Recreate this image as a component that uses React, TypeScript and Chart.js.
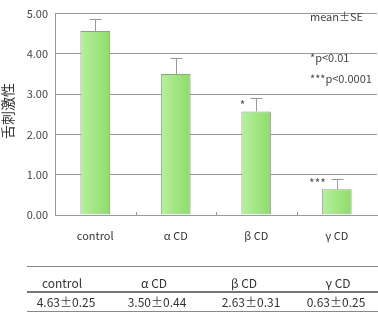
import React, { useEffect, useRef } from "react";
import { Chart, registerables } from "chart.js";

Chart.register(...registerables);

const categories = ["control", "α CD", "β CD", "γ CD"];
const means = [4.57, 3.5, 2.57, 0.64];
const errors = [0.29, 0.4, 0.33, 0.26];
const marks = ["", "", "*", "***"];
const yTicks = [0, 1, 2, 3, 4, 5];
const yTitle = "舌刺激性";
const notes = ["mean±SE", "*p<0.01", "***p<0.0001"];
const tableHeaders = ["control", "α CD", "β CD", "γ CD"];
const tableMeans = ["4.63", "3.50", "2.63", "0.63"];
const tableSEs = ["0.25", "0.44", "0.31", "0.25"];

const FONT = '"Noto Sans CJK JP", "Noto Sans", sans-serif';
const W = 378;
const H = 333;

const extras = {
  id: "extras",
  afterDatasetsDraw(chart: any) {
    const ctx = chart.ctx;
    const ys = chart.scales.y;
    const xs = chart.scales.x;
    const meta = chart.getDatasetMeta(0);
    ctx.save();
    ctx.strokeStyle = "#999";
    ctx.lineWidth = 1;
    meta.data.forEach((el: any, i: number) => {
      const x = Math.round(el.x) + 0.5;
      const yTop = Math.round(ys.getPixelForValue(means[i] + errors[i])) + 0.5;
      const yBar = el.y;
      ctx.beginPath();
      ctx.moveTo(x, yBar);
      ctx.lineTo(x, yTop);
      ctx.moveTo(x - 6, yTop);
      ctx.lineTo(x + 6, yTop);
      ctx.stroke();
      if (marks[i]) {
        ctx.fillStyle = "#555";
        ctx.font = `12px ${FONT}`;
        ctx.textAlign = "right";
        ctx.textBaseline = "middle";
        ctx.fillText(marks[i], el.x - el.width / 2 + 4, el.y - 6);
      }
    });
    const b = chart.chartArea.bottom;
    for (let i = 0; i < categories.length - 1; i++) {
      const bx = Math.round((xs.getPixelForValue(i) + xs.getPixelForValue(i + 1)) / 2) + 0.5;
      ctx.beginPath();
      ctx.moveTo(bx, b);
      ctx.lineTo(bx, b - 3);
      ctx.stroke();
    }
    ctx.restore();
  },
  afterDraw(chart: any) {
    const ctx = chart.ctx;
    ctx.save();
    ctx.fillStyle = "#333";
    ctx.font = `14px ${FONT}`;
    ctx.textAlign = "center";
    ctx.textBaseline = "middle";
    ctx.translate(8, 111);
    ctx.rotate(-Math.PI / 2);
    ctx.fillText(yTitle, 0, 0);
    ctx.restore();

    ctx.save();
    ctx.fillStyle = "#444";
    ctx.font = `11px ${FONT}`;
    ctx.textAlign = "left";
    ctx.textBaseline = "middle";
    const noteY = [17, 58, 79];
    notes.forEach((t, i) => ctx.fillText(t, 310, noteY[i]));

    ctx.strokeStyle = "#888";
    ctx.lineWidth = 1;
    ctx.beginPath();
    ctx.moveTo(27, 266.5);
    ctx.lineTo(W, 266.5);
    ctx.moveTo(27, 311.5);
    ctx.lineTo(W, 311.5);
    ctx.stroke();
    ctx.strokeStyle = "#777";
    ctx.lineWidth = 2;
    ctx.beginPath();
    ctx.moveTo(27, 292);
    ctx.lineTo(W, 292);
    ctx.stroke();

    const headX = [62, 154, 244, 338];
    const valX = [66, 157, 251, 336];
    ctx.fillStyle = "#333";
    ctx.font = `12px ${FONT}`;
    ctx.textAlign = "center";
    ctx.textBaseline = "middle";
    tableHeaders.forEach((t, i) => ctx.fillText(t, headX[i], 283));
    tableMeans.forEach((m, i) => ctx.fillText(`${m}±${tableSEs[i]}`, valX[i], 302));
    ctx.restore();
  },
};

export default function App() {
  const ref = useRef<HTMLCanvasElement>(null);
  useEffect(() => {
    document.body.style.margin = "0";
    const canvas = ref.current!;
    const chart = new Chart(canvas, {
      type: "bar",
      data: {
        labels: categories,
        datasets: [
          {
            data: means,
            backgroundColor: (c: any) => {
              const ch = c.chart;
              const xs = ch.scales && ch.scales.x;
              if (!xs || c.dataIndex == null || !ch.chartArea) return "#a4e684";
              const cx = xs.getPixelForValue(c.dataIndex);
              const g = ch.ctx.createLinearGradient(cx - 15, 0, cx + 15, 0);
              g.addColorStop(0, "#b6f09e");
              g.addColorStop(1, "#8edc69");
              return g;
            },
            borderColor: "#999",
            borderWidth: 1,
            barPercentage: 0.37,
            categoryPercentage: 1,
          },
        ],
      },
      options: {
        responsive: false,
        animation: false,
        devicePixelRatio: 1,
        layout: { padding: { top: 5, left: 0, right: 1, bottom: 0 } },
        plugins: { legend: { display: false }, tooltip: { enabled: false } },
        scales: {
          x: {
            grid: { display: false },
            border: { display: true, color: "#999", width: 1 },
            ticks: { color: "#333", font: { family: FONT, size: 11 }, padding: 6 },
            afterFit: (s: any) => {
              s.height = 118;
            },
          },
          y: {
            min: 0,
            max: 5,
            afterBuildTicks: (s: any) => {
              s.ticks = yTicks.map((v) => ({ value: v }));
            },
            grid: { color: "#999", drawTicks: false },
            border: { display: true, color: "#999", width: 1 },
            ticks: {
              color: "#444",
              font: { family: FONT, size: 11 },
              padding: 7,
              callback: (v: any) => Number(v).toFixed(2),
            },
            afterFit: (s: any) => {
              s.width = 55;
            },
          },
        },
      },
      plugins: [extras],
    });
    return () => chart.destroy();
  }, []);
  return (
    <div style={{ position: "absolute", left: 0, top: 0, width: W, height: H, background: "#fff" }}>
      <canvas ref={ref} width={W} height={H} style={{ width: W, height: H }} />
    </div>
  );
}
